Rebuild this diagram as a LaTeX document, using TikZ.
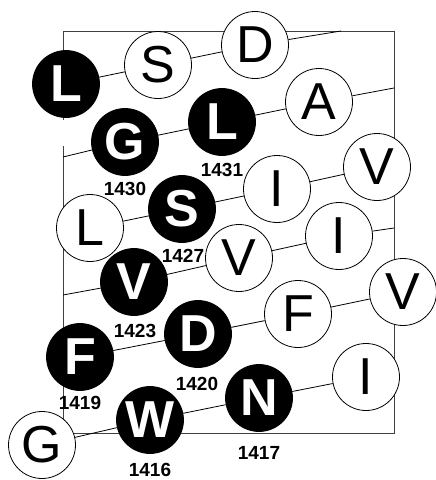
\documentclass[tikz,border=0pt]{standalone}
\usepackage{fontspec}
\setmainfont{Liberation Sans}
\begin{document}
\begin{tikzpicture}[x=1pt,y=-1pt,
  res/.style={circle,draw=black,line width=0.8pt,minimum size=67pt,inner sep=0pt,fill=white,font=\fontsize{52}{52}\selectfont},
  hyd/.style={res,fill=black,text=white,font=\fontsize{52}{52}\selectfont\bfseries},
  num/.style={font=\fontsize{19}{19}\selectfont\bfseries,inner sep=0pt},
  link/.style={line width=0.8pt},
  frame/.style={line width=0.9pt,draw=black!75}]
\useasboundingbox (0,0) rectangle (436,480);
% frame
\draw[frame] (63,120) -- (63,31) -- (394,31) -- (394,433) -- (63,433) -- (63,146);
% edge coordinates
\coordinate (e1) at (341,31);
\coordinate (e2) at (63,157);
\coordinate (e3) at (394,88);
\coordinate (e4) at (63,295);
\coordinate (e5) at (394,228);
% row 1
\node[hyd] (a1) at (66,84) {L};
\node[res] (a2) at (158,65) {S};
\node[res] (a3) at (255,45) {D};
% row 2
\node[hyd] (b1) at (125,142) {G};
\node[hyd] (b2) at (222,122) {L};
\node[res] (b3) at (319,102) {A};
% row 3
\node[res] (c1) at (90,228) {L};
\node[hyd] (c2) at (182,209) {S};
\node[res] (c3) at (277,189) {I};
\node[res] (c4) at (377,167) {V};
% row 4
\node[hyd] (d1) at (134,282) {V};
\node[res] (d2) at (239,258) {V};
\node[res] (d3) at (339,236) {I};
% row 5
\node[hyd] (f1) at (80,357) {F};
\node[hyd] (f2) at (198,334) {D};
\node[res] (f3) at (298,314) {F};
\node[res] (f4) at (403,292) {V};
% row 6
\node[res] (g1) at (42,445) {G};
\node[hyd] (g2) at (150,420) {W};
\node[hyd] (g3) at (259,398) {N};
\node[res] (g4) at (366,377) {I};
% links
\draw[link] (a1) -- (a2) -- (a3) -- (e1);
\draw[link] (e2) -- (b1) -- (b2) -- (b3) -- (e3);
\draw[link] (c1) -- (c2) -- (c3) -- (c4);
\draw[link] (e4) -- (d1) -- (d2) -- (d3) -- (e5);
\draw[link] (f1) -- (f2) -- (f3) -- (f4);
\draw[link] (g1) -- (g2) -- (g3) -- (g4);
% labels
\node[num] (n1430) at (125,189) {1430};
\node[num] (n1431) at (222,170) {1431};
\node[num] (n1427) at (183,256) {1427};
\node[num] (n1423) at (135,331) {1423};
\node[num] (n1420) at (197,384) {1420};
\node[num] (n1419) at (80,403) {1419};
\node[num] (n1416) at (150,470) {1416};
\node[num] (n1417) at (259,453) {1417};
\end{tikzpicture}
\end{document}
